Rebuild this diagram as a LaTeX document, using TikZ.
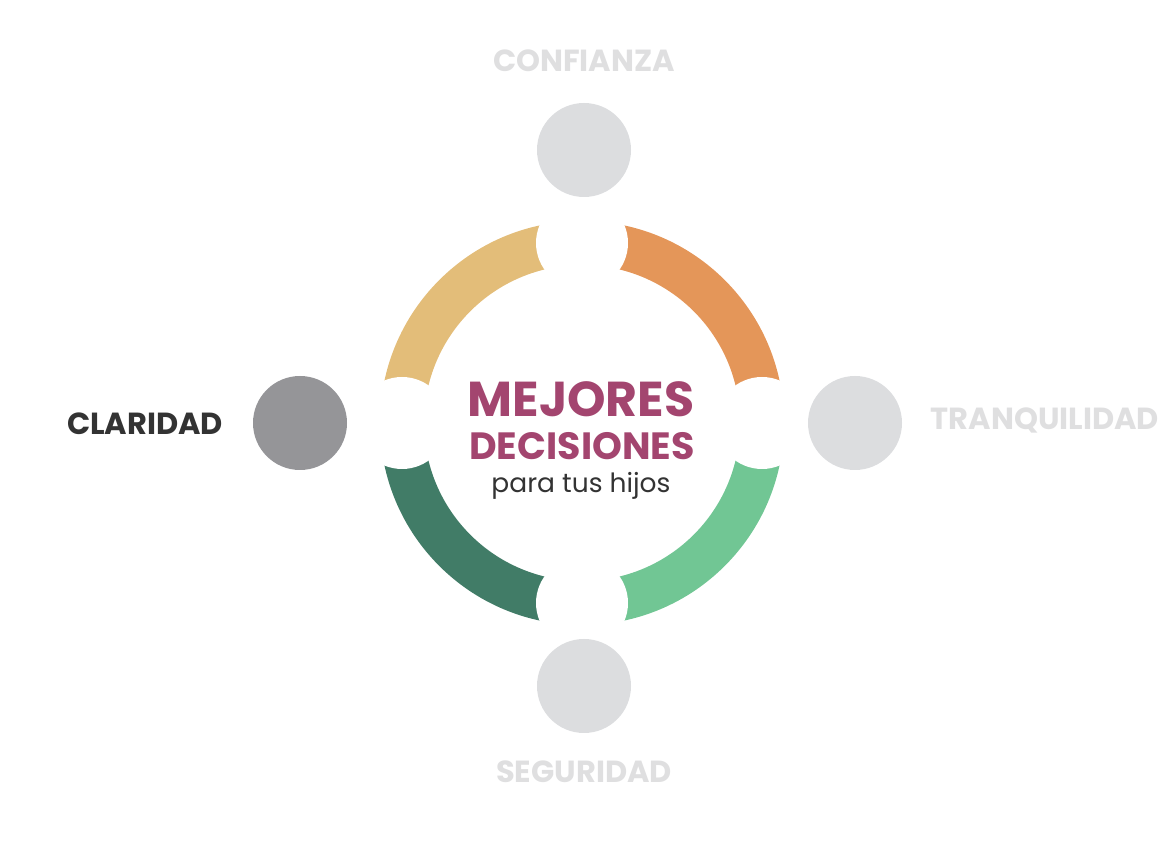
\documentclass[tikz,border=0pt]{standalone}
\usepackage{fontspec}
\setmainfont{Poppins}
\definecolor{arcSand}{HTML}{E3BD79}
\definecolor{arcOrange}{HTML}{E49659}
\definecolor{arcMint}{HTML}{71C694}
\definecolor{arcPine}{HTML}{417C67}
\definecolor{plum}{HTML}{A3456F}
\definecolor{mist}{HTML}{DCDDDF}
\definecolor{stone}{HTML}{959598}
\definecolor{ink}{HTML}{333333}
\definecolor{faded}{HTML}{DFDFE0}
\begin{document}
\begin{tikzpicture}[x=1pt,y=1pt,
  dot/.style={circle,minimum size=94pt,inner sep=0pt},
  tag/.style={font=\bfseries\fontsize{30.5}{30.5}\selectfont,inner sep=0pt,anchor=base},
  title/.style={font=\bfseries\fontsize{#1}{#1}\selectfont,text=plum,inner sep=0pt,anchor=base}]

\useasboundingbox (0,0) rectangle (1172,848);

% Ring: four coloured quarters, white notches at the cardinal points.
\coordinate (ctr) at (582,425);
\foreach \a/\col in {0/arcOrange,90/arcSand,180/arcPine,270/arcMint}
  \fill[\col,shift={(ctr)}] (\a:202) arc[start angle=\a,end angle=\a+90,radius=202]
    -- (\a+90:158) arc[start angle=\a+90,end angle=\a,radius=158] -- cycle;
\foreach \a in {0,90,180,270}
  \fill[white,shift={(ctr)}] (\a:180) circle[radius=46];

% Satellite circles.
\node[dot,fill=mist] (conf) at (584,698) {};
\node[dot,fill=stone] (clar) at (300,425) {};
\node[dot,fill=mist] (tranq) at (855,425) {};
\node[dot,fill=mist] (seg) at (584,162) {};

% Labels.
\node[tag,text=faded] (confL) at (584,776) {CONFIANZA};
\node[tag,text=ink] (clarL) at (145,413) {CLARIDAD};
\node[tag,text=faded] (tranqL) at (1045,418) {TRANQUILIDAD};
\node[tag,text=faded] (segL) at (584,65) {SEGURIDAD};

% Centre text.
\node[title=49] (mej) at (581,431) {MEJORES};
\node[title=38] (dec) at (582,388) {DECISIONES};
\node[font=\fontsize{26.5}{26.5}\selectfont,text=ink,inner sep=0pt,anchor=base]
  (hijos) at (581,355) {para tus hijos};
\end{tikzpicture}
\end{document}
